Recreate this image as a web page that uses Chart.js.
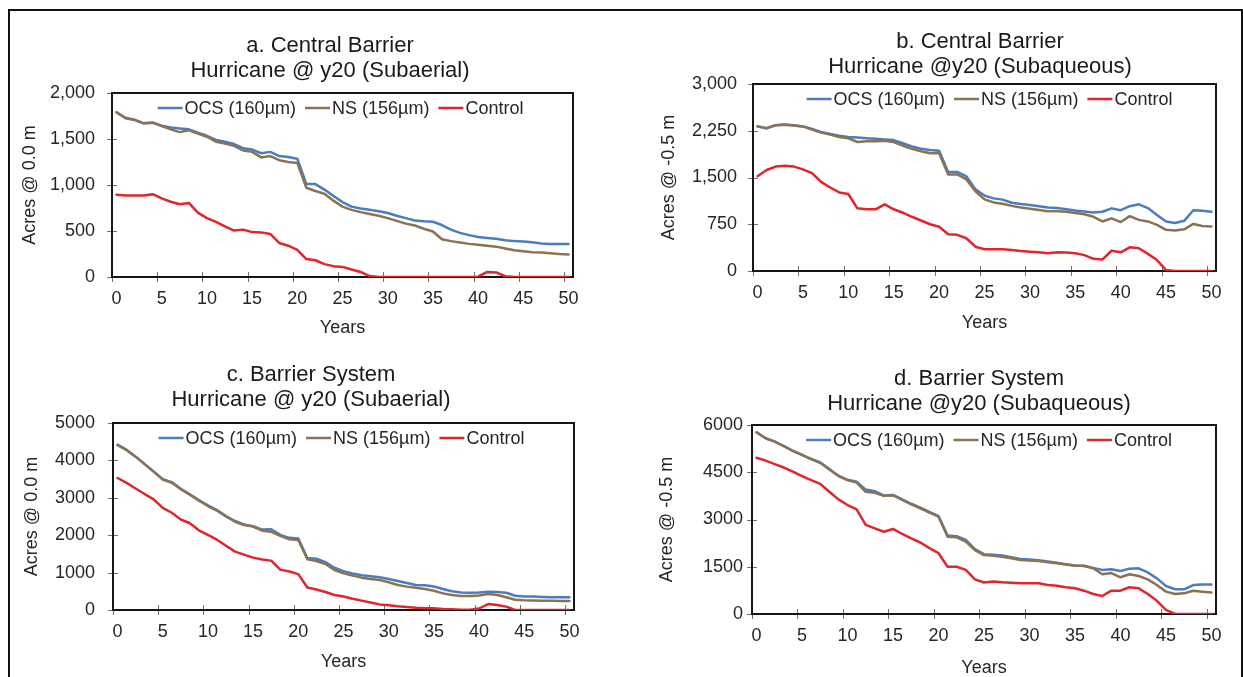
<!DOCTYPE html>
<html>
<head>
<meta charset="utf-8">
<title>Barrier acreage, hurricane at year 20</title>
<script src="https://cdn.jsdelivr.net/npm/chart.js@4.4.0/dist/chart.umd.min.js"></script>
<style>
  html, body { margin: 0; padding: 0; background: #fff; overflow: hidden; }
  #page { position: relative; width: 1243px; height: 677px; }
  #frame { position: absolute; left: 8px; top: 9px; width: 1231px; height: 720px; border: 2px solid #111; }
  canvas.panel { position: absolute; }
</style>
</head>
<body>
<div id="page">
  <div id="frame"></div>
  <canvas id="cA" class="panel"></canvas>
  <canvas id="cB" class="panel"></canvas>
  <canvas id="cC" class="panel"></canvas>
  <canvas id="cD" class="panel"></canvas>
</div>
<script>
// years 0..50 on a category axis
var years = Array.from({ length: 51 }, function(_, i) { return String(i); });
var seriesNames = ['OCS (160\u00b5m)', 'NS (156\u00b5m)', 'Control'];
var seriesColors = ['#4a7cc0', '#8c7250', '#e0262b'];

// a. Central Barrier, subaerial (acres @ 0.0 m)
var aTicks = [0, 500, 1000, 1500, 2000];
var aOcs = [1790, 1730, 1710, 1670, 1680, 1645, 1625, 1615, 1605, 1570,
  1535, 1490, 1470, 1445, 1400, 1385, 1345, 1360, 1315, 1305,
  1285, 1010, 1010, 950, 880, 815, 765, 745, 730, 715,
  695, 665, 640, 615, 605, 600, 565, 515, 480, 455,
  435, 425, 415, 400, 390, 385, 378, 365, 360, 360, 360];
var aNs = [1790, 1725, 1705, 1670, 1675, 1640, 1605, 1575, 1595, 1560,
  1525, 1470, 1450, 1425, 1375, 1360, 1300, 1315, 1270, 1250,
  1240, 970, 935, 905, 830, 765, 730, 705, 685, 665,
  640, 610, 580, 560, 525, 495, 410, 390, 375, 360,
  350, 340, 330, 310, 290, 280, 270, 265, 258, 250, 245];
var aCtrl = [895, 885, 885, 885, 900, 855, 818, 790, 805, 700,
  640, 600, 550, 505, 515, 488, 485, 468, 370, 340,
  295, 195, 182, 140, 118, 110, 82, 55, 10, 0,
  0, 0, 0, 0, 0, 0, 0, 0, 0, 0,
  3, 55, 50, 8, 0, 0, 0, 0, 0, 0, 0];

// b. Central Barrier, subaqueous (acres @ -0.5 m)
var bTicks = [0, 750, 1500, 2250, 3000];
var bOcs = [2320, 2290, 2340, 2350, 2340, 2320, 2280, 2230, 2200, 2170,
  2150, 2140, 2130, 2120, 2110, 2100, 2050, 2000, 1960, 1940,
  1930, 1590, 1590, 1520, 1310, 1210, 1165, 1145, 1095, 1075,
  1060, 1040, 1020, 1010, 990, 970, 955, 940, 950, 1005,
  975, 1040, 1070, 1010, 900, 795, 770, 805, 975, 965, 950];
var bNs = [2320, 2290, 2340, 2345, 2335, 2320, 2270, 2220, 2190, 2150,
  2130, 2070, 2080, 2080, 2090, 2070, 2010, 1960, 1920, 1890,
  1890, 1550, 1550, 1470, 1280, 1150, 1100, 1080, 1045, 1020,
  1000, 980, 960, 960, 950, 930, 910, 870, 795, 845,
  785, 880, 820, 795, 740, 660, 650, 668, 755, 722, 712];
var bCtrl = [1520, 1620, 1675, 1690, 1675, 1630, 1570, 1430, 1340, 1260,
  1235, 1005, 990, 990, 1070, 990, 935, 870, 810, 750,
  710, 590, 580, 525, 390, 350, 350, 350, 335, 320,
  310, 300, 285, 300, 295, 285, 255, 195, 185, 325,
  300, 380, 365, 275, 175, 15, 0, 0, 0, 0, 0];

// c. Barrier System, subaerial (acres @ 0.0 m)
var cTicks = [0, 1000, 2000, 3000, 4000, 5000];
var cOcs = [4420, 4280, 4100, 3900, 3700, 3500, 3420, 3240, 3090, 2940,
  2800, 2670, 2510, 2380, 2290, 2240, 2150, 2160, 2010, 1930,
  1910, 1390, 1370, 1280, 1130, 1040, 975, 930, 900, 875,
  830, 775, 720, 670, 660, 630, 560, 500, 470, 460,
  470, 490, 480, 460, 380, 360, 360, 350, 340, 340, 340];
var cNs = [4410, 4280, 4100, 3900, 3700, 3490, 3400, 3230, 3080, 2920,
  2780, 2660, 2500, 2360, 2270, 2230, 2120, 2090, 1980, 1890,
  1870, 1355, 1310, 1230, 1070, 980, 920, 865, 830, 800,
  740, 670, 625, 595, 560, 515, 445, 400, 375, 375,
  390, 430, 400, 340, 276, 258, 255, 250, 245, 242, 240];
var cCtrl = [3530, 3400, 3250, 3100, 2960, 2730, 2600, 2420, 2320, 2130,
  2010, 1880, 1720, 1560, 1480, 1400, 1350, 1320, 1080, 1030,
  960, 600, 550, 480, 400, 360, 300, 250, 200, 150,
  130, 100, 80, 60, 50, 50, 30, 20, 10, 10,
  40, 160, 135, 90, 0, 0, 0, 0, 0, 0, 0];

// d. Barrier System, subaqueous (acres @ -0.5 m)
var dTicks = [0, 1500, 3000, 4500, 6000];
var dOcs = [5770, 5580, 5470, 5330, 5180, 5050, 4920, 4810, 4600, 4390,
  4260, 4200, 3950, 3900, 3760, 3780, 3640, 3500, 3380, 3240,
  3110, 2490, 2470, 2350, 2060, 1900, 1880, 1855, 1800, 1750,
  1730, 1710, 1670, 1630, 1580, 1540, 1520, 1460, 1400, 1420,
  1365, 1440, 1450, 1320, 1130, 890, 785, 785, 920, 940, 940];
var dNs = [5770, 5580, 5470, 5330, 5175, 5050, 4920, 4800, 4590, 4380,
  4250, 4170, 3880, 3850, 3750, 3770, 3620, 3480, 3350, 3220,
  3090, 2455, 2435, 2300, 2030, 1870, 1850, 1820, 1770, 1715,
  1695, 1680, 1640, 1610, 1575, 1535, 1530, 1450, 1260, 1300,
  1165, 1260, 1205, 1100, 920, 710, 635, 655, 740, 710, 680];
var dCtrl = [4960, 4870, 4760, 4650, 4520, 4380, 4250, 4130, 3880, 3640,
  3460, 3320, 2830, 2720, 2610, 2700, 2540, 2400, 2270, 2090,
  1930, 1500, 1500, 1400, 1100, 1000, 1030, 1005, 995, 975,
  975, 975, 920, 900, 850, 815, 740, 635, 570, 740,
  740, 850, 815, 635, 420, 130, 0, 0, 0, 0, 0];

var FONT = '"Liberation Sans", Arial, Helvetica, sans-serif';
var TEXT = '#262626';

// plot box plus tick marks that cross the axes (Excel "cross" style)
var plotFrame = {
  id: 'plotFrame',
  beforeDatasetsDraw: function(chart) {
    var ctx = chart.ctx, a = chart.chartArea, xs = chart.scales.x, ys = chart.scales.y;
    var half = (xs.getPixelForValue(1) - xs.getPixelForValue(0)) / 2;
    ctx.save();
    ctx.strokeStyle = '#707070';
    ctx.lineWidth = 1;
    ctx.beginPath();
    ys.ticks.forEach(function(t) {
      var py = Math.round(ys.getPixelForValue(t.value)) + 0.5;
      ctx.moveTo(a.left - 5, py);
      ctx.lineTo(a.left + 5, py);
    });
    for (var i = 0; i < years.length; i += 5) {
      var px = Math.round(xs.getPixelForValue(i) - half) + 0.5;
      ctx.moveTo(px, a.bottom - 5);
      ctx.lineTo(px, a.bottom + 5);
    }
    ctx.stroke();
    ctx.strokeStyle = '#161616';
    ctx.lineWidth = 2;
    ctx.strokeRect(a.left, a.top, a.right - a.left, a.bottom - a.top);
    ctx.restore();
  }
};

// two-line panel heading
var panelTitle = {
  id: 'panelTitle',
  afterDraw: function(chart, args, opts) {
    var ctx = chart.ctx;
    ctx.save();
    ctx.font = '22px ' + FONT;
    ctx.fillStyle = '#1a1a1a';
    ctx.textAlign = 'center';
    ctx.textBaseline = 'middle';
    opts.lines.forEach(function(line, i) {
      ctx.fillText(line, opts.x, opts.y + i * 25);
    });
    ctx.restore();
  }
};

// legend row sitting inside the top of the plot box
var insideLegend = {
  id: 'insideLegend',
  afterDraw: function(chart, args, opts) {
    var ctx = chart.ctx, a = chart.chartArea, sets = chart.data.datasets;
    ctx.save();
    ctx.font = '18px ' + FONT;
    var widths = sets.map(function(ds) { return 27 + ctx.measureText(ds.label).width; });
    var total = widths.reduce(function(s, w) { return s + w; }, 0) + 9 * (sets.length - 1);
    var x = (a.left + a.right) / 2 + (opts.dx || 0) - total / 2;
    var y = a.top + 15;
    sets.forEach(function(ds, i) {
      ctx.strokeStyle = ds.borderColor;
      ctx.lineWidth = 2.5;
      ctx.beginPath();
      ctx.moveTo(x, y);
      ctx.lineTo(x + 25, y);
      ctx.stroke();
      ctx.fillStyle = TEXT;
      ctx.textAlign = 'left';
      ctx.textBaseline = 'middle';
      ctx.fillText(ds.label, x + 27, y + 1);
      x += widths[i] + 9;
    });
    ctx.restore();
  }
};

var panels = [
  { id: 'cA', left: 10, top: 15, width: 583, height: 330,
    title: ['a. Central Barrier', 'Hurricane @ y20 (Subaerial)'], titleX: 320, titleY: 31,
    yTitle: 'Acres @ 0.0 m', yTicks: aTicks, comma: true, series: [aOcs, aNs, aCtrl],
    pad: { top: 78, right: 20, bottom: 6, left: 0 }, yWidth: 102, yTitlePad: 9, yTickPad: 17, xHeight: 62, legendDx: -2 },
  { id: 'cB', left: 650, top: 15, width: 586, height: 325,
    title: ['b. Central Barrier', 'Hurricane @y20 (Subaqueous)'], titleX: 330, titleY: 27,
    yTitle: 'Acres @ -0.5 m', yTicks: bTicks, comma: true, series: [bOcs, bNs, bCtrl],
    pad: { top: 69, right: 20, bottom: 6, left: 0 }, yWidth: 103, yTitlePad: 8, yTickPad: 16, xHeight: 63, legendDx: 5 },
  { id: 'cC', left: 10, top: 350, width: 584, height: 327,
    title: ['c. Barrier System', 'Hurricane @ y20 (Subaerial)'], titleX: 301, titleY: 25,
    yTitle: 'Acres @ 0.0 m', yTicks: cTicks, comma: false, series: [cOcs, cNs, cCtrl],
    pad: { top: 73, right: 20, bottom: 4, left: 0 }, yWidth: 103, yTitlePad: 11, yTickPad: 18, xHeight: 63, legendDx: -2 },
  { id: 'cD', left: 650, top: 350, width: 586, height: 333,
    title: ['d. Barrier System', 'Hurricane @y20 (Subaqueous)'], titleX: 329, titleY: 29,
    yTitle: 'Acres @ -0.5 m', yTicks: dTicks, comma: false, series: [dOcs, dNs, dCtrl],
    pad: { top: 75, right: 20, bottom: 4, left: 0 }, yWidth: 102, yTitlePad: 6, yTickPad: 9, xHeight: 65, legendDx: 5 }
];

function buildPanel(p) {
  var canvas = document.getElementById(p.id);
  canvas.width = p.width;
  canvas.height = p.height;
  canvas.style.left = p.left + 'px';
  canvas.style.top = p.top + 'px';
  var tickFont = { family: FONT, size: 18 };
  return new Chart(canvas, {
    type: 'line',
    data: {
      labels: years,
      datasets: seriesNames.map(function(name, i) {
        return {
          label: name,
          data: p.series[i],
          borderColor: seriesColors[i],
          backgroundColor: seriesColors[i],
          borderWidth: 2.5,
          borderJoinStyle: 'round',
          borderCapStyle: 'round',
          pointRadius: 0,
          tension: 0,
          order: 2 - i
        };
      })
    },
    options: {
      responsive: false,
      animation: false,
      layout: { padding: p.pad },
      plugins: {
        legend: { display: false },
        tooltip: { enabled: false },
        title: { display: false },
        panelTitle: { lines: p.title, x: p.titleX, y: p.titleY },
        insideLegend: { dx: p.legendDx }
      },
      scales: {
        x: {
          type: 'category',
          offset: true,
          grid: { display: false, drawTicks: false },
          border: { display: false },
          ticks: {
            autoSkip: false, maxRotation: 0, minRotation: 0, padding: 11,
            color: TEXT, font: tickFont,
            callback: function(v, i) { return i % 5 === 0 ? years[i] : ''; }
          },
          title: { display: true, text: 'Years', color: TEXT, font: tickFont, padding: 0 },
          afterFit: function(s) { s.height = p.xHeight; }
        },
        y: {
          min: p.yTicks[0],
          max: p.yTicks[p.yTicks.length - 1],
          grid: { display: false, drawTicks: false },
          border: { display: false },
          ticks: {
            padding: p.yTickPad, color: TEXT, font: tickFont,
            callback: function(v) { return p.comma ? Number(v).toLocaleString('en-US') : String(v); }
          },
          afterBuildTicks: function(s) {
            s.ticks = p.yTicks.map(function(v) { return { value: v }; });
          },
          title: { display: true, text: p.yTitle, color: TEXT, font: tickFont, padding: { top: p.yTitlePad, bottom: 0 } },
          afterFit: function(s) { s.width = p.yWidth; }
        }
      }
    },
    plugins: [plotFrame, panelTitle, insideLegend]
  });
}

panels.forEach(buildPanel);
</script>
</body>
</html>
